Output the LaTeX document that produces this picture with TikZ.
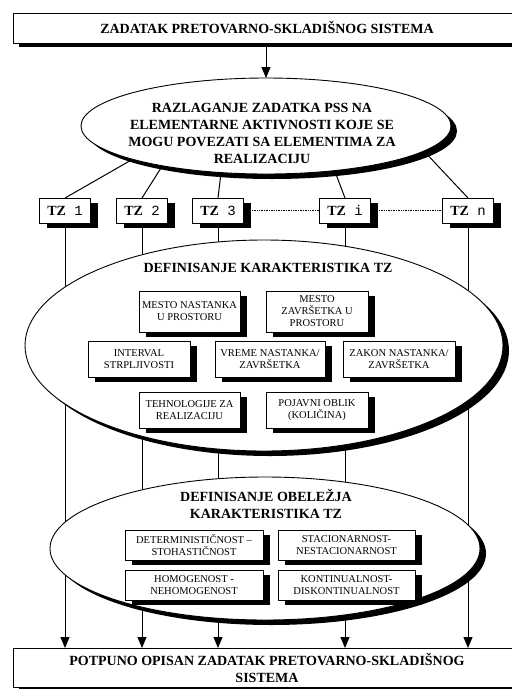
\documentclass[tikz,border=0pt]{standalone}
\usepackage{fontspec}
\setmainfont{Liberation Serif}
\setmonofont{Liberation Mono}
\usetikzlibrary{shapes.geometric,shadows,arrows.meta}
\pgfdeclarelayer{bg}
\pgfsetlayers{bg,main}

\begin{document}
\begin{tikzpicture}[x=1pt,y=-1pt,
  every node/.style={inner sep=0pt, outer sep=0pt},
  shade on/.style 2 args={drop shadow={shadow xshift=#1, shadow yshift=#2, opacity=1, fill=black}},
  head/.style={font=\fontsize{14}{17}\selectfont\bfseries, align=center},
  bigbox/.style={draw, line width=1pt, fill=white, minimum width=508pt, shade on={6pt}{-4pt}, head},
  tzbox/.style={draw, line width=1pt, fill=white, minimum width=51pt, minimum height=25pt, shade on={7pt}{-5pt}, font=\fontsize{14}{17}\selectfont},
  oval/.style={ellipse, draw, line width=0.9pt, fill=white, shade on={6pt}{-5pt}},
  card/.style={draw, line width=1pt, fill=white, shade on={7pt}{-5pt}, align=center, font=\fontsize{10.5}{12}\selectfont},
  conn/.style={line width=1pt},
  tip/.style={-{Triangle[width=9pt,length=11pt]}},
  dotline/.style={line width=0.9pt, dash pattern=on 1pt off 0.7pt}
]
\clip (0,0) rectangle (512,689);

% top and bottom bars
\node[bigbox, minimum height=30pt] (top) at (267,28) {ZADATAK PRETOVARNO-SKLADIŠNOG SISTEMA};
\node[bigbox, minimum height=39pt] (bot) at (267,667.5) {POTPUNO OPISAN ZADATAK PRETOVARNO-SKLADIŠNOG\\SISTEMA};

% decomposition oval
\node[oval, minimum width=370pt, minimum height=96pt] (e1) at (266,126) {};
\node[head] (e1t) at (262,133.5) {RAZLAGANJE ZADATKA PSS NA\\ELEMENTARNE AKTIVNOSTI KOJE SE\\MOGU POVEZATI SA ELEMENTIMA ZA\\REALIZACIJU};

% elementary tasks
\node[tzbox] (tz1) at (65,210.5)  {\textbf{TZ}\texttt{ 1}};
\node[tzbox] (tz2) at (142,210.5) {\textbf{TZ}\texttt{ 2}};
\node[tzbox] (tz3) at (218,210.5) {\textbf{TZ}\texttt{ 3}};
\node[tzbox] (tzi) at (345,210.5) {\textbf{TZ}\texttt{ i}};
\node[tzbox] (tzn) at (468,210.5) {\textbf{TZ}\texttt{ n}};

% characteristics oval
\node[oval, minimum width=478pt, minimum height=211pt] (e2) at (264,345.5) {};
\node[head] (e2t) at (268,268) {DEFINISANJE KARAKTERISTIKA TZ};
\node[card, minimum width=101pt, minimum height=41pt] (b1) at (189.5,311.5) {MESTO NASTANKA\\U PROSTORU};
\node[card, minimum width=102pt, minimum height=41pt] (b2) at (317,311.5) {MESTO\\ZAVRŠETKA U\\PROSTORU};
\node[card, minimum width=102pt, minimum height=36pt] (b3) at (139,359) {INTERVAL\\STRPLJIVOSTI};
\node[card, minimum width=110pt, minimum height=36pt] (b4) at (270,359) {VREME NASTANKA/\\ZAVRŠETKA};
\node[card, minimum width=112pt, minimum height=36pt] (b5) at (399,359) {ZAKON NASTANKA/\\ZAVRŠETKA};
\node[card, minimum width=101pt, minimum height=36pt] (b6) at (189.5,410) {TEHNOLOGIJE ZA\\REALIZACIJU};
\node[card, minimum width=102pt, minimum height=36pt] (b7) at (317,410) {POJAVNI OBLIK\\(KOLIČINA)};

% attribute oval
\node[oval, minimum width=430pt, minimum height=143pt] (e3) at (265,548.5) {};
\node[head] (e3t) at (266,504) {DEFINISANJE OBELEŽJA\\KARAKTERISTIKA TZ};
\node[card, minimum width=138pt, minimum height=30pt] (c1) at (194,545) {DETERMINISTIČNOST –\\STOHASTIČNOST};
\node[card, minimum width=137pt, minimum height=30pt] (c2) at (346.5,545) {STACIONARNOST-\\NESTACIONARNOST};
\node[card, minimum width=138pt, minimum height=30pt] (c3) at (194,585) {HOMOGENOST -\\NEHOMOGENOST};
\node[card, minimum width=137pt, minimum height=30pt] (c4) at (346.5,585) {KONTINUALNOST-\\DISKONTINUALNOST};

\begin{pgfonlayer}{bg}
  \draw[conn, tip] (e1.north |- top.south) -- (e1.north);
  \draw[conn] (tz1.north) -- (e1.194);
  \draw[conn] (tz2.north) -- (e1.201);
  \draw[conn] (tz3.north) -- (e1.226);
  \draw[conn] (tzi.north) -- (e1.327);
  \draw[conn] (tzn.north) -- (e1.351);
  \draw[dotline] (tz3.east) -- (tzi.west);
  \draw[dotline] (tzi.east) -- (tzn.west);
  \foreach \t in {tz1,tz2,tz3,tzi,tzn}
    \draw[conn, tip] (\t.south) -- (\t.south |- bot.north);
\end{pgfonlayer}
\end{tikzpicture}
\end{document}
